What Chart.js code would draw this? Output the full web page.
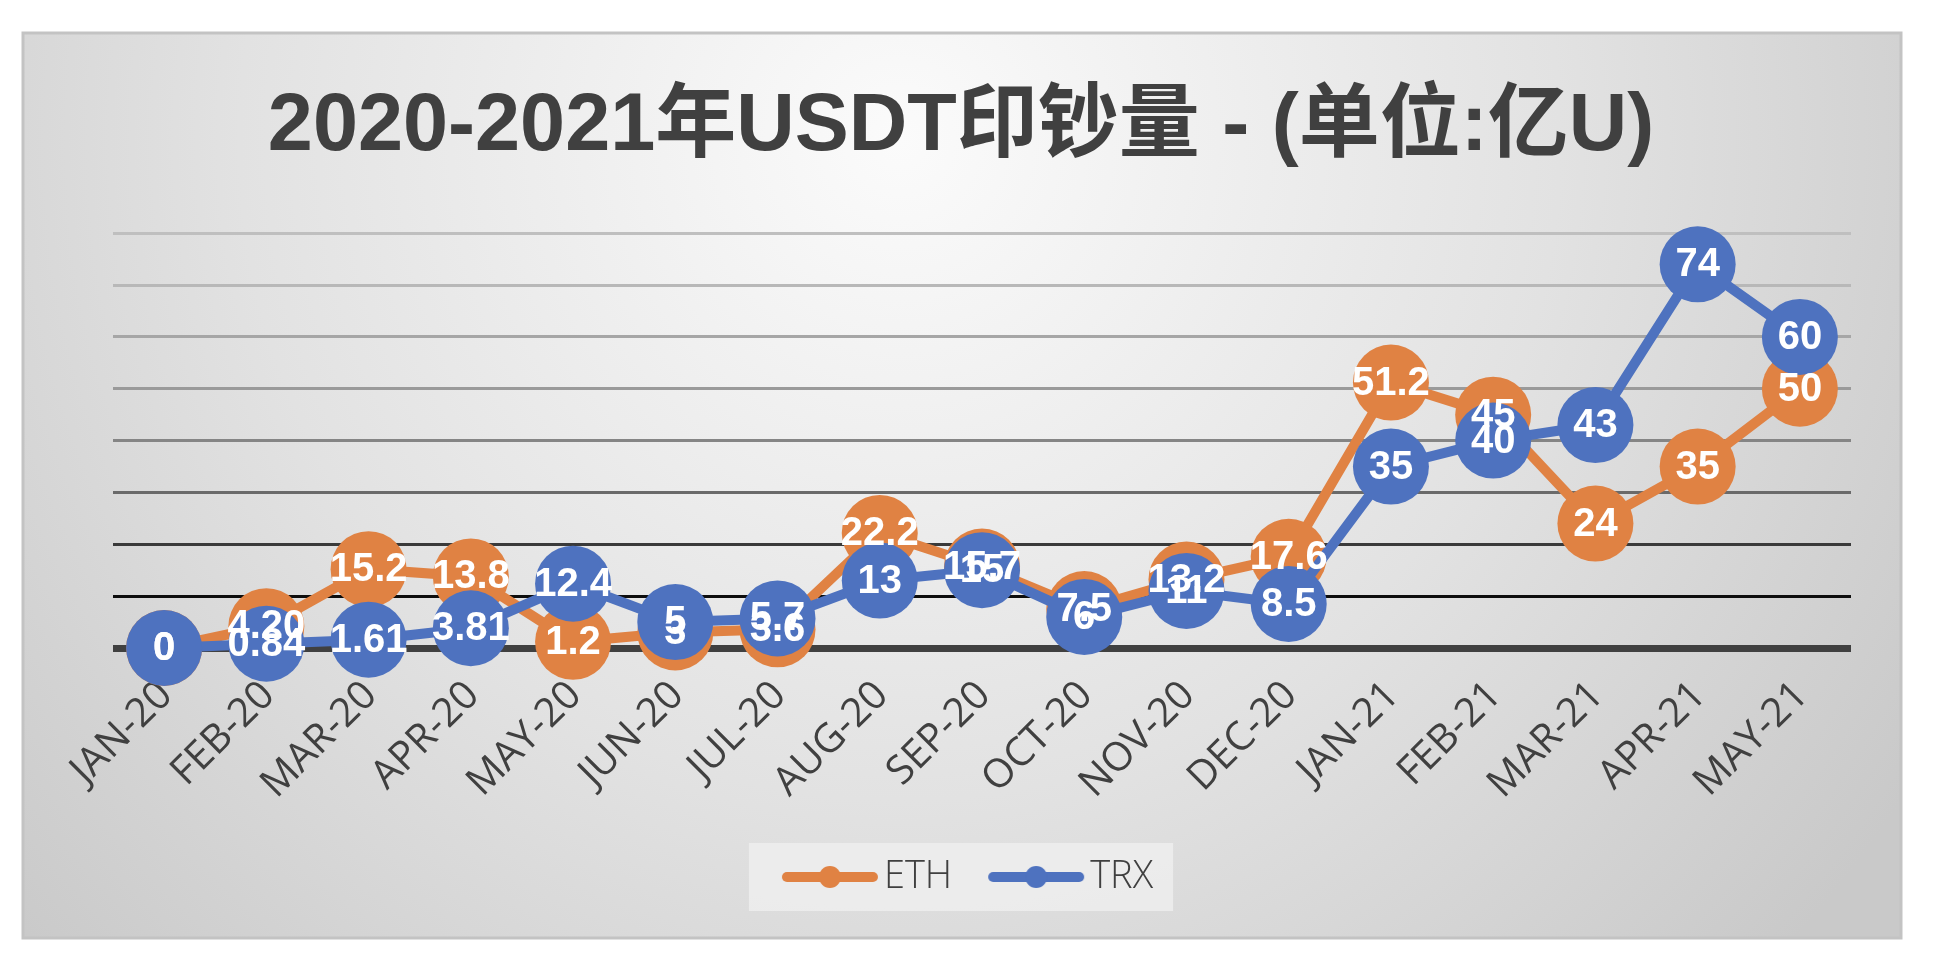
<!DOCTYPE html>
<html>
<head>
<meta charset="utf-8">
<script src="https://cdn.jsdelivr.net/npm/chart.js@4/dist/chart.umd.min.js"></script>
<style>
  html, body { margin: 0; padding: 0; background: #ffffff; }
  #wrap { width: 1936px; height: 978px; }
</style>
</head>
<body>
<div id="wrap"><canvas id="chart"></canvas></div>
<script>
// months on the x axis
var months = ['JAN-20', 'FEB-20', 'MAR-20', 'APR-20', 'MAY-20', 'JUN-20', 'JUL-20', 'AUG-20',
    'SEP-20', 'OCT-20', 'NOV-20', 'DEC-20', 'JAN-21', 'FEB-21', 'MAR-21', 'APR-21', 'MAY-21'];

// kept as strings so the labels read exactly like the source ("4.20")
var ethValues = ['0', '4.20', '15.2', '13.8', '1.2', '3', '3.6', '22.2',
    '15.7', '7.5', '13.2', '17.6', '51.2', '45', '24', '35', '50'];
var trxValues = ['0', '0.84', '1.61', '3.81', '12.4', '5', '5.7', '13',
    '15', '6', '11', '8.5', '35', '40', '43', '74', '60'];

var yTicks = [0, 10, 20, 30, 40, 50, 60, 70, 80];

var ORANGE = '#E08243';
var BLUE = '#4E72BF';

// gridlines get darker towards the bottom
var gridColors = {0: '#404040', 10: '#0d0d0d', 20: '#3a3a3a', 30: '#6a6a6a', 40: '#858585',
    50: '#9a9a9a', 60: '#a6a6a6', 70: '#b8b8b8', 80: '#bfbfbf'};

function legendIcon(color) {
    var c = document.createElement('canvas');
    c.width = 110;
    c.height = 30;
    var g = c.getContext('2d');
    g.strokeStyle = color;
    g.lineWidth = 10;
    g.lineCap = 'round';
    g.beginPath();
    g.moveTo(12, 15);
    g.lineTo(98, 15);
    g.stroke();
    g.fillStyle = color;
    g.beginPath();
    g.arc(55, 15, 11, 0, Math.PI * 2);
    g.fill();
    return c;
}
var icons = [legendIcon(ORANGE), legendIcon(BLUE)];

// frame + gradient background + legend panel
var backdrop = {
    id: 'backdrop',
    afterLayout: function (chart) {
        // title and legend sit a little left of centre in the original
        chart.titleBlock.left -= 42;
        chart.legend.left -= 16;
    },
    beforeDraw: function (chart) {
        var ctx = chart.ctx;
        ctx.save();
        ctx.fillStyle = '#ffffff';
        ctx.fillRect(0, 0, chart.width, chart.height);
        var grad = ctx.createRadialGradient(900, 140, 0, 900, 140, 1200);
        grad.addColorStop(0, '#fbfbfb');
        grad.addColorStop(0.55, '#e2e2e2');
        grad.addColorStop(1, '#c9c9c9');
        ctx.fillStyle = grad;
        ctx.fillRect(23, 33, 1878, 905);
        ctx.strokeStyle = '#c3c3c3';
        ctx.lineWidth = 3;
        ctx.strokeRect(23, 33, 1878, 905);

        var boxes = chart.legend && chart.legend.legendHitBoxes;
        if (boxes && boxes.length) {
            var first = boxes[0], last = boxes[boxes.length - 1];
            var cy = first.top + first.height / 2;
            ctx.fillStyle = 'rgba(240,240,240,0.75)';
            ctx.fillRect(first.left - 46, cy - 34, last.left + last.width - first.left + 66, 68);
        }
        ctx.restore();
    }
};

// white value labels centred on each marker
var valueLabels = {
    id: 'valueLabels',
    afterDatasetsDraw: function (chart) {
        var ctx = chart.ctx;
        ctx.save();
        ctx.font = 'bold 40px "Liberation Sans", Arial, sans-serif';
        ctx.fillStyle = '#ffffff';
        ctx.textAlign = 'center';
        ctx.textBaseline = 'middle';
        chart.data.datasets.forEach(function (ds, di) {
            var meta = chart.getDatasetMeta(di);
            meta.data.forEach(function (pt, i) {
                ctx.fillText(ds.data[i], pt.x, pt.y + 1);
            });
        });
        ctx.restore();
    }
};

new Chart(document.getElementById('chart'), {
    type: 'line',
    data: {
        labels: months,
        datasets: [
            {
                label: 'ETH',
                data: ethValues,
                borderColor: ORANGE,
                backgroundColor: ORANGE,
                borderWidth: 10,
                pointRadius: 38,
                pointBorderWidth: 0,
                pointHoverRadius: 38,
                tension: 0,
                clip: false,
                order: 1
            },
            {
                label: 'TRX',
                data: trxValues,
                borderColor: BLUE,
                backgroundColor: BLUE,
                borderWidth: 10,
                pointRadius: 38,
                pointBorderWidth: 0,
                pointHoverRadius: 38,
                tension: 0,
                clip: false,
                order: 0
            }
        ]
    },
    options: {
        responsive: true,
        maintainAspectRatio: false,
        animation: false,
        devicePixelRatio: 1,
        layout: {
            padding: { top: 0, left: 113, right: 85, bottom: 72 }
        },
        plugins: {
            title: {
                display: true,
                text: '2020-2021年USDT印钞量 - (单位:亿U)',
                color: '#404040',
                font: { family: '"Liberation Sans", "Noto Sans CJK SC", sans-serif', size: 81, weight: 'bold', lineHeight: 1.2 },
                padding: { top: 79, bottom: 57 }
            },
            legend: {
                position: 'bottom',
                labels: {
                    usePointStyle: true,
                    pointStyleWidth: 70,
                    padding: 49,
                    color: '#404040',
                    font: { family: '"Open Sans", sans-serif', size: 38, weight: '300' },
                    sort: function (a, b) { return a.datasetIndex - b.datasetIndex; },
                    generateLabels: function (chart) {
                        var items = Chart.defaults.plugins.legend.labels.generateLabels(chart);
                        items.forEach(function (it) { it.pointStyle = icons[it.datasetIndex]; });
                        return items;
                    }
                }
            },
            tooltip: { enabled: false }
        },
        scales: {
            x: {
                offset: true,
                grid: { display: false, drawTicks: false },
                border: { display: false },
                ticks: {
                    color: '#404040',
                    font: { family: '"Open Sans", sans-serif', size: 40 },
                    minRotation: 45,
                    maxRotation: 45,
                    padding: 24,
                    labelOffset: 2,
                    autoSkip: false
                },
                afterFit: function (scale) { scale.height = 161; }
            },
            y: {
                min: 0,
                max: 80,
                afterBuildTicks: function (scale) {
                    scale.ticks = yTicks.map(function (v) { return { value: v }; });
                },
                border: { display: false },
                ticks: { display: false },
                grid: {
                    drawTicks: false,
                    color: function (c) { return gridColors[c.tick.value]; },
                    lineWidth: function (c) { return c.tick.value === 0 ? 7 : 3; }
                }
            }
        }
    },
    plugins: [backdrop, valueLabels]
});
</script>
</body>
</html>
